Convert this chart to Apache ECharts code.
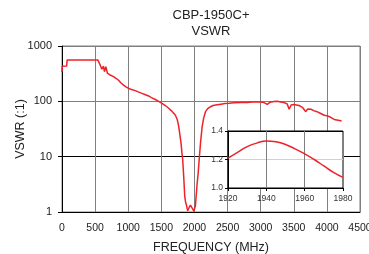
<!DOCTYPE html>
<html>
<head>
<meta charset="utf-8">
<script src="https://cdn.jsdelivr.net/npm/echarts@6/dist/echarts.min.js"></script>
<style>
  html, body { margin: 0; padding: 0; background: #fff; }
  #vswrchart { width: 369px; height: 254px; }
</style>
</head>
<body>
<div id="vswrchart"></div>
<script>
// main sweep, MHz vs VSWR
const freqMHz = [0, 3, 70, 78, 540, 576, 601, 626, 641, 662, 686, 727, 745, 752, 778, 790, 810, 828, 850, 860, 879,
  895, 915, 929, 950, 960, 985, 1005, 1030, 1050, 1080, 1106, 1130, 1150, 1180, 1207, 1230, 1250, 1280, 1308, 1330,
  1350, 1380, 1409, 1460, 1510, 1560, 1611, 1650, 1687, 1712, 1740, 1763, 1780,
  1798, 1810, 1823, 1838, 1854, 1866, 1879, 1890, 1899, 1910, 1920, 1930, 1940, 1950, 1960, 1970, 1980, 1990, 2005, 2015,
  2025, 2040, 2056, 2075, 2091, 2116, 2140, 2167, 2200, 2242, 2280, 2343, 2400, 2460, 2520, 2600, 2700, 2800, 2870, 2900,
  3000, 3050, 3100, 3140, 3200, 3253, 3300, 3350, 3400, 3430, 3460, 3500, 3530, 3580, 3630, 3660, 3682, 3710, 3760, 3800,
  3850, 3900, 3960, 4000, 4050, 4080, 4111, 4150, 4190, 4222];
const vswr = [340, 430, 435, 560, 560, 455, 380, 435, 343, 423, 322, 299, 299, 285, 279, 262, 262, 243, 243, 232, 227,
  212, 210, 197, 195, 185, 183, 172, 170, 163, 162, 156, 150, 148, 145, 139, 137, 133, 130, 125, 122,
  117, 114, 108, 100, 92, 84, 75, 68, 61, 56, 47, 35, 25,
  17.4, 12, 8.7, 4.35, 1.89, 1.5, 1.34, 1.15, 1.05, 1.12, 1.21, 1.29, 1.33, 1.31, 1.24, 1.155, 1.075, 1.03, 1.1, 1.3,
  1.89, 3.2, 5, 10, 17.4, 34.8, 50, 65, 74, 80, 84, 87, 89, 91, 92, 94, 95, 95, 97, 96,
  97, 95, 88, 96, 99, 100, 97, 95, 90, 72, 86, 88, 86, 84, 78, 72, 65, 73, 72, 68,
  65, 61, 56, 55, 52, 49, 47, 46, 45, 44];

// passband zoom (inset)
const insetFreq = [1920, 1925, 1930, 1935, 1940, 1945, 1950, 1955, 1960, 1965, 1970, 1975, 1980];
const insetVswr = [1.21, 1.25, 1.29, 1.315, 1.33, 1.325, 1.305, 1.275, 1.24, 1.2, 1.155, 1.11, 1.075];

const titleLines = ["CBP-1950C+", "VSWR"];
const lineColor = "#ee2229";
const labelFont = "Liberation Sans, Arial, sans-serif";

const zip = (a, b) => a.map((v, i) => [v, b[i]]);
const plain = (v) => String(v);

let myChart = echarts.init(document.getElementById("vswrchart"));

let option = {
  animation: false,
  backgroundColor: "#fff",
  graphic: [
    { type: "text", x: 211, y: 15, style: { text: titleLines[0], fill: "#222", font: "13px " + labelFont, textAlign: "center", textVerticalAlign: "middle" } },
    { type: "text", x: 211, y: 31, style: { text: titleLines[1], fill: "#222", font: "13px " + labelFont, textAlign: "center", textVerticalAlign: "middle" } }
  ],
  grid: [
    { left: 62, right: 9, top: 46, bottom: 42, containLabel: false, outerBoundsMode: "none", show: true, borderColor: "#7f7f7f", borderWidth: 1 },
    { left: 228, right: 26, top: 131, bottom: 66, containLabel: false, outerBoundsMode: "none", show: true, backgroundColor: "#fff", borderColor: "#000", borderWidth: 1, z: 5 }
  ],
  xAxis: [
    {
      type: "value", gridIndex: 0, min: 0, max: 4500, interval: 500,
      name: "FREQUENCY (MHz)", nameLocation: "middle", nameGap: 29, nameMoveOverlap: false,
      nameTextStyle: { fontSize: 12.5, color: "#222", fontFamily: labelFont },
      axisLine: { lineStyle: { color: "#000", width: 1 } },
      axisTick: { show: false },
      axisLabel: { fontSize: 10.5, color: "#222", margin: 11, fontFamily: labelFont, formatter: plain },
      splitLine: { show: true, lineStyle: { color: "#7f7f7f", width: 1 } }
    },
    {
      type: "value", gridIndex: 1, min: 1920, max: 1980, interval: 20, z: 6,
      axisLine: { lineStyle: { color: "#000", width: 1 } },
      axisTick: { show: true, length: 3, lineStyle: { color: "#000" } },
      axisLabel: { fontSize: 8.5, color: "#333", margin: 6, fontFamily: labelFont, formatter: plain },
      splitLine: { show: true, lineStyle: { color: "#7f7f7f", width: 1 } }
    }
  ],
  yAxis: [
    {
      type: "log", gridIndex: 0, min: 1, max: 1000, logBase: 10,
      name: "VSWR (:1)", nameLocation: "middle", nameGap: 35, nameMoveOverlap: false,
      nameTextStyle: { fontSize: 12.5, color: "#222", fontFamily: labelFont },
      axisLine: { lineStyle: { color: "#000", width: 1 } },
      axisTick: { show: true, length: 4, lineStyle: { color: "#000" } },
      axisLabel: { fontSize: 11, color: "#222", margin: 10, fontFamily: labelFont, formatter: plain },
      splitLine: { show: true, lineStyle: { color: ["#000", "#000", "#7f7f7f", "#7f7f7f"], width: 1 } }
    },
    {
      type: "value", gridIndex: 1, min: 1.0, max: 1.4, interval: 0.2, z: 6,
      axisLine: { lineStyle: { color: "#000", width: 1 } },
      axisTick: { show: true, length: 3, lineStyle: { color: "#000" } },
      axisLabel: { fontSize: 8.5, color: "#333", margin: 5, fontFamily: labelFont, formatter: (v) => v.toFixed(1) },
      splitLine: { show: true, lineStyle: { color: ["#000", "#d0d0d0", "#000"], width: 1 } }
    }
  ],
  series: [
    {
      type: "line", xAxisIndex: 0, yAxisIndex: 0,
      data: zip(freqMHz, vswr),
      showSymbol: false,
      lineStyle: { color: lineColor, width: 1.5 },
      z: 2
    },
    {
      type: "line", xAxisIndex: 1, yAxisIndex: 1,
      data: zip(insetFreq, insetVswr),
      smooth: true,
      showSymbol: false,
      lineStyle: { color: lineColor, width: 1.5 },
      z: 7
    }
  ]
};

option && myChart.setOption(option);
</script>
</body>
</html>
